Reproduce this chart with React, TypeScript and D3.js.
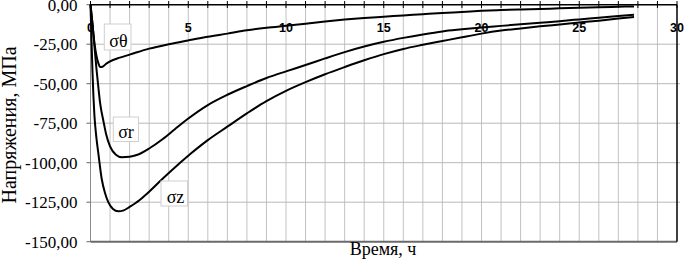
import React from 'react';
import * as d3 from 'd3';

// время, ч / напряжения, МПа
const sigmaTheta: [number, number][] = [
  [0, 0], [0.1, -12], [0.2, -24], [0.3, -32], [0.4, -37], [0.5, -39.5], [0.65, -39], [0.8, -37.4],
  [1, -35.8], [1.5, -33.5], [2, -31.6], [3, -27.8], [4, -25], [5, -22.6], [6, -20.3], [7, -18.3],
  [8, -16.2], [9, -14.6], [10, -13.3], [11, -12], [12, -10.6], [13, -9.4], [14, -8.4], [15, -7.6],
  [16, -6.8], [17, -6], [18, -5.2], [19, -4.6], [20, -3.9], [21, -3.4], [22, -3], [23, -2.7],
  [24, -2.3], [25, -2], [26, -1.6], [27, -1.3], [27.8, -1.1],
];

const sigmaR: [number, number][] = [
  [0, 0], [0.1, -12], [0.2, -26], [0.3, -40], [0.4, -52], [0.5, -63], [0.65, -73], [0.8, -82],
  [1, -89.7], [1.3, -95], [1.6, -96.6], [2, -96.3], [2.4, -95], [3, -91], [3.7, -85], [4.3, -79],
  [4.9, -73], [6, -63.5], [7, -57], [8, -51.5], [9, -46.4], [10, -42.2], [11, -38.2], [12, -34],
  [13, -30], [14, -26.5], [15, -23.5], [16, -21], [17, -18.8], [18, -16.9], [19, -15.6], [20, -14.4],
  [21, -13.4], [22, -12.4], [23, -11.4], [24, -10.4], [25, -9.3], [26, -8.2], [27, -7.1], [27.8, -6.3],
];

const sigmaZ: [number, number][] = [
  [0, 0], [0.05, -22], [0.1, -42], [0.15, -58], [0.2, -70], [0.3, -84], [0.4, -94], [0.57, -110],
  [0.75, -119.5], [0.91, -125], [1.15, -129.3], [1.42, -130.8], [1.7, -130.2], [2, -128],
  [2.5, -123.8], [2.9, -119.5], [3.7, -110], [4.5, -101], [5.1, -94.5], [5.6, -89.5], [6, -85.7],
  [7, -77.2], [8, -68.8], [9, -61], [10, -54.5], [11, -49], [12, -44], [13, -39.5], [14, -35.2],
  [15, -31.3], [16, -28], [17, -25.4], [18, -23], [19, -20.6], [20, -18.3], [21, -16.4], [22, -15],
  [23, -13.7], [24, -12.5], [25, -11.3], [26, -10.1], [27, -8.8], [27.8, -7.8],
];

const xLabelTicks = [0, 5, 10, 15, 20, 25, 30];
const yTicks = [0, -25, -50, -75, -100, -125, -150];

const W = 685;
const H = 260;

export default function App() {
  const x = d3.scaleLinear().domain([0, 30]).range([90.5, 677]);
  const y = d3.scaleLinear().domain([0, -150]).range([4.7, 241.7]);
  const line = d3.line<[number, number]>()
    .x(d => x(d[0]))
    .y(d => y(d[1]))
    .curve(d3.curveMonotoneX);

  const minorX = d3.range(1, 30);
  const fmt = (v: number) => v.toFixed(2).replace('.', ',');

  const serif = '"Liberation Serif", "Times New Roman", serif';
  const sans = '"Liberation Sans", Arial, sans-serif';

  const labels = [
    { text: 'σθ', x0: 104.3, y0: 24, x1: 131, y1: 50, tx: 118.5, ty: 47 },
    { text: 'σr', x0: 113.3, y0: 117, x1: 138.5, y1: 141.5, tx: 126, ty: 137.5 },
    { text: 'σz', x0: 161, y0: 181, x1: 187.5, y1: 206, tx: 175.5, ty: 202.5 },
  ];

  return (
    <svg width={W} height={H} style={{ position: 'absolute', left: 0, top: 0, background: '#fff' }}>
      {/* grid */}
      {minorX.map(t => (
        <line key={'gx' + t} x1={x(t)} x2={x(t)} y1={y(0)} y2={y(-150)} stroke="#c2c2c2" strokeWidth={1} />
      ))}
      {yTicks.slice(1, -1).map(v => (
        <line key={'gy' + v} x1={x(0)} x2={x(30) + 3} y1={y(v)} y2={y(v)} stroke="#b8b8b8" strokeWidth={1} />
      ))}

      {/* left axis */}
      <line x1={x(0)} x2={x(0)} y1={y(0)} y2={y(-150)} stroke="#8a8a8a" strokeWidth={1} />
      {yTicks.map(v => (
        <line key={'yt' + v} x1={x(0) - 4} x2={x(0)} y1={y(v)} y2={y(v)} stroke="#666" strokeWidth={1} />
      ))}
      {yTicks.map(v => (
        <text key={'yl' + v} x={77.5} y={y(v) + 5.8} textAnchor="end" fontFamily={serif} fontSize={17} fill="#000">
          {fmt(v)}
        </text>
      ))}

      {/* bottom and right borders */}
      <line x1={x(0)} x2={x(30)} y1={y(-150)} y2={y(-150)} stroke="#6a6a6a" strokeWidth={2} />
      <line x1={x(30)} x2={x(30)} y1={y(0)} y2={y(-150)} stroke="#000" strokeWidth={1.5} />

      {/* top axis */}
      <line x1={x(0)} x2={x(30)} y1={y(0)} y2={y(0)} stroke="#000" strokeWidth={1.5} />
      {d3.range(0, 31).map(t => (
        <line key={'xt' + t} x1={x(t)} x2={x(t)} y1={1} y2={8} stroke="#000" strokeWidth={1} />
      ))}
      {xLabelTicks.map(t => (
        <text key={'xl' + t} x={x(t)} y={32.3} textAnchor="middle" fontFamily={sans} fontWeight="bold" fontSize={12.5} fill="#000">
          {t}
        </text>
      ))}

      {/* series */}
      {[sigmaTheta, sigmaR, sigmaZ].map((s, i) => (
        <path key={'s' + i} d={line(s) || ''} fill="none" stroke="#000" strokeWidth={2} />
      ))}

      {/* curve labels */}
      {labels.map(l => (
        <g key={l.text}>
          <rect x={l.x0} y={l.y0} width={l.x1 - l.x0} height={l.y1 - l.y0} fill="#fff" stroke="#cfcfcf" strokeWidth={1} />
          <text x={l.tx} y={l.ty} textAnchor="middle" fontFamily={serif} fontSize={18} fill="#000">
            {l.text}
          </text>
        </g>
      ))}

      {/* axis titles */}
      <text x={383} y={254.5} textAnchor="middle" fontFamily={serif} fontSize={18} fill="#000">
        Время, ч
      </text>
      <text
        transform={`translate(15.5,125) rotate(-90)`}
        textAnchor="middle"
        fontFamily={serif}
        fontSize={20}
        fill="#000"
      >
        Напряжения, МПа
      </text>
    </svg>
  );
}
